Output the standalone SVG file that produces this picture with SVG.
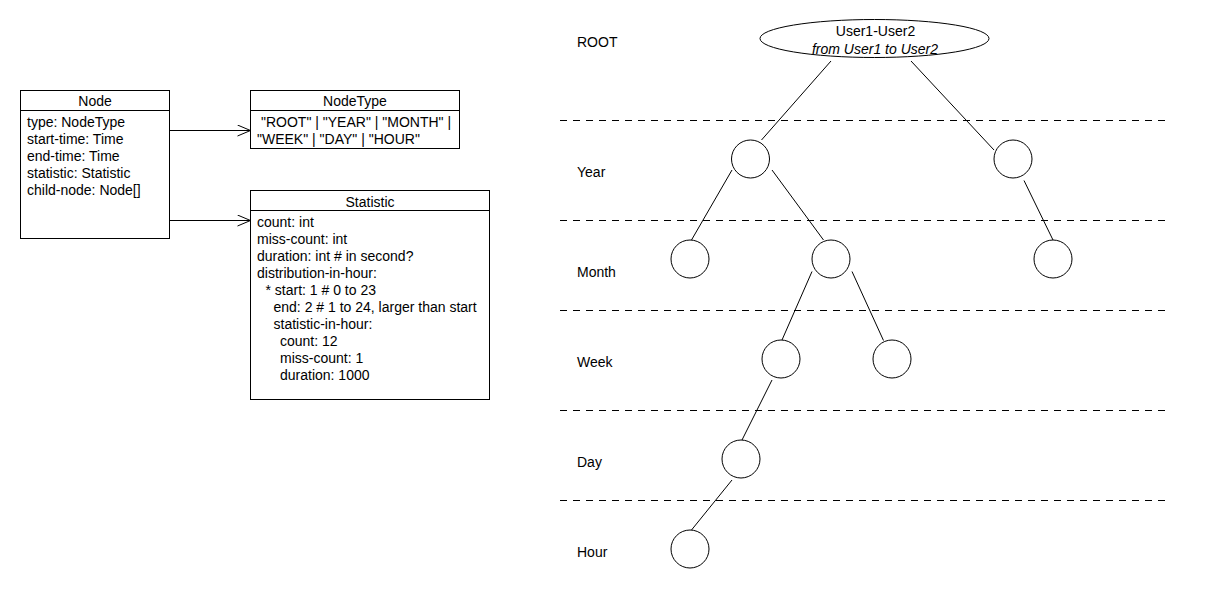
<svg xmlns="http://www.w3.org/2000/svg" width="1210" height="590" viewBox="0 0 1210 590">
<style>
text{font-family:"Liberation Sans",Arial,sans-serif;font-size:14px;fill:#000}
.c{text-anchor:middle}
.box{fill:#fff;stroke:#000;stroke-width:1}
.ln{stroke:#000;stroke-width:1;fill:none}
.dash{stroke:#000;stroke-width:1;stroke-dasharray:7 6;fill:none}
.nd{fill:#fff;stroke:#000;stroke-width:1}
</style>
<defs>
<marker id="open" markerWidth="16" markerHeight="14" refX="14" refY="6" orient="auto" markerUnits="userSpaceOnUse">
<path d="M1,0.5 L14,6 L1,11.5" fill="none" stroke="#000" stroke-width="1"/>
</marker>
</defs>
<rect width="1210" height="590" fill="#fff"/>

<g id="lanes">
<line class="dash" x1="560" y1="120.5" x2="1171" y2="120.5"/>
<line class="dash" x1="560" y1="220.5" x2="1171" y2="220.5"/>
<line class="dash" x1="560" y1="310.5" x2="1171" y2="310.5"/>
<line class="dash" x1="560" y1="410.5" x2="1171" y2="410.5"/>
<line class="dash" x1="560" y1="500.5" x2="1171" y2="500.5"/>
<text x="577" y="47">ROOT</text>
<text x="577" y="177">Year</text>
<text x="577" y="277">Month</text>
<text x="577" y="367">Week</text>
<text x="577" y="467">Day</text>
<text x="577" y="557">Hour</text>
</g>

<g id="connectors">
<line class="ln" x1="169.5" y1="130.5" x2="250.5" y2="130.5" marker-end="url(#open)"/>
<line class="ln" x1="169.5" y1="220.5" x2="250.5" y2="220.5" marker-end="url(#open)"/>
<line class="ln" x1="831" y1="61" x2="761.5" y2="140"/>
<line class="ln" x1="911" y1="61" x2="994" y2="150"/>
<line class="ln" x1="732" y1="170" x2="691.5" y2="240"/>
<line class="ln" x1="772" y1="170" x2="823.5" y2="240"/>
<line class="ln" x1="1024" y1="180.5" x2="1053" y2="240"/>
<line class="ln" x1="812" y1="271.5" x2="782" y2="340"/>
<line class="ln" x1="852" y1="271.5" x2="883.5" y2="340.5"/>
<line class="ln" x1="772" y1="380" x2="742" y2="440"/>
<line class="ln" x1="732" y1="480" x2="691.5" y2="530"/>
</g>

<g id="node-Node">
<rect class="box" x="20.5" y="90.5" width="149" height="148"/>
<line class="ln" x1="20.5" y1="110.5" x2="169.5" y2="110.5"/>
<text class="c" x="95" y="106">Node</text>
<text x="27" y="127">type: NodeType</text>
<text x="27" y="144">start-time: Time</text>
<text x="27" y="161">end-time: Time</text>
<text x="27" y="177.5">statistic: Statistic</text>
<text x="27" y="194.5">child-node: Node[]</text>
</g>

<g id="node-NodeType">
<rect class="box" x="250.5" y="90.5" width="209" height="58"/>
<line class="ln" x1="250.5" y1="110.5" x2="459.5" y2="110.5"/>
<text class="c" x="355" y="106">NodeType</text>
<text x="261" y="127">"ROOT" | "YEAR" | "MONTH" |</text>
<text x="257" y="144">"WEEK" | "DAY" | "HOUR"</text>
</g>

<g id="node-Statistic">
<rect class="box" x="250.5" y="190.5" width="239" height="209"/>
<line class="ln" x1="250.5" y1="210.5" x2="489.5" y2="210.5"/>
<text class="c" x="370" y="207">Statistic</text>
<text x="257" y="227">count: int</text>
<text x="257" y="244">miss-count: int</text>
<text x="257" y="261">duration: int # in second?</text>
<text x="257" y="278">distribution-in-hour:</text>
<text x="265.5" y="295">* start: 1 # 0 to 23</text>
<text x="273.5" y="312">end: 2 # 1 to 24, larger than start</text>
<text x="273.5" y="329">statistic-in-hour:</text>
<text x="280" y="346">count: 12</text>
<text x="280" y="363">miss-count: 1</text>
<text x="280" y="380">duration: 1000</text>
</g>

<g id="node-root">
<ellipse class="nd" cx="874.5" cy="38.5" rx="114.5" ry="19"/>
<text class="c" x="875.5" y="36">User1-User2</text>
<text class="c" x="875" y="53.5" font-style="italic">from User1 to User2</text>
</g>
<g id="node-year1"><circle class="nd" cx="750.5" cy="159" r="19"/></g>
<g id="node-year2"><circle class="nd" cx="1013" cy="159" r="19"/></g>
<g id="node-month1"><circle class="nd" cx="690" cy="259" r="19"/></g>
<g id="node-month2"><circle class="nd" cx="831" cy="259" r="19"/></g>
<g id="node-month3"><circle class="nd" cx="1053" cy="259" r="19"/></g>
<g id="node-week1"><circle class="nd" cx="781" cy="359" r="19"/></g>
<g id="node-week2"><circle class="nd" cx="892" cy="359" r="19"/></g>
<g id="node-day1"><circle class="nd" cx="741" cy="459" r="19"/></g>
<g id="node-hour1"><circle class="nd" cx="690" cy="549" r="19"/></g>
</svg>
